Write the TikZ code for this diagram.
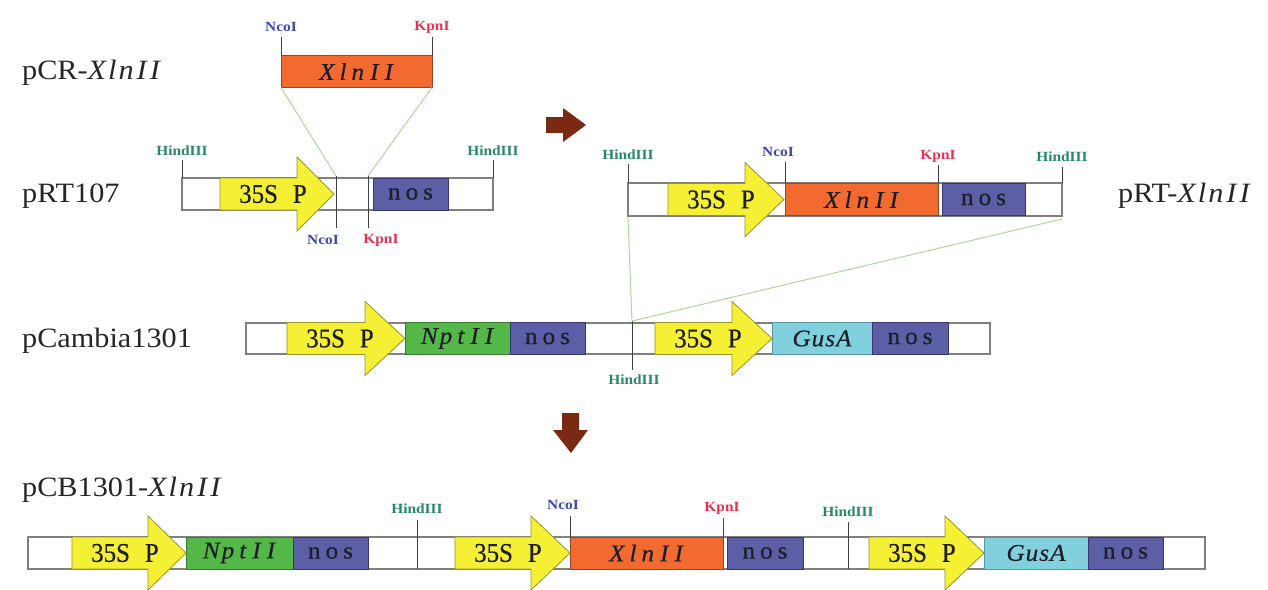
\documentclass[tikz,border=0pt]{standalone}
\usepackage{fontspec}
\setmainfont{Liberation Serif}
\newfontfamily\lblfont[FakeStretch=1.08]{Liberation Serif}
\newfontfamily\promfont[FakeStretch=0.92,FakeBold=0.4]{Liberation Serif}
\newfontfamily\segfont[FakeStretch=1.05,FakeBold=0.4]{Liberation Serif}
\newfontfamily\enzfont[FakeStretch=1.1]{Liberation Serif}
\definecolor{promy}{RGB}{246,240,52}
\definecolor{promd}{RGB}{150,150,40}
\definecolor{orng}{RGB}{242,106,48}
\definecolor{orngd}{RGB}{150,70,40}
\definecolor{nosb}{RGB}{92,94,166}
\definecolor{nosd}{RGB}{55,55,110}
\definecolor{nptg}{RGB}{84,184,72}
\definecolor{nptd}{RGB}{60,120,50}
\definecolor{gusc}{RGB}{128,208,222}
\definecolor{gusd}{RGB}{90,150,165}
\definecolor{barc}{RGB}{128,128,128}
\definecolor{linkg}{RGB}{176,214,156}
\definecolor{hindc}{RGB}{40,135,105}
\definecolor{ncoc}{RGB}{58,72,176}
\definecolor{kpnc}{RGB}{232,48,80}
\definecolor{brownc}{RGB}{122,42,18}
\definecolor{txtd}{RGB}{30,30,40}
\newcommand\promo[5]{%
  \draw[prom] (#2,#5-16) -- (#3,#5-16) -- (#3,#5-37) -- (#4,#5) -- (#3,#5+37) -- (#3,#5+16) -- (#2,#5+16) -- cycle;
  \node[promtxt] (#1) at ({#2+53},#5) {35S\hspace{15pt}P};}
\newcommand\segm[6]{%
  \draw[#5] (#2,#4-16) rectangle (#3,#4+16);
  \node[segtxt] (#1) at ({(#2+#3)/2},#4) {#6};}
\newcommand\site[8]{%
  \coordinate (#1a) at (#2,#3);
  \coordinate (#1b) at (#2,#4);
  \draw[tick] (#1a) -- (#1b);
  \node[#5] (#1l) at (#6,#7) {#8};}
\newcommand\nostxt{n\kern5pt o\kern5pt s}
\newcommand\xln{\textit{X\kern5pt l\kern5pt n\kern6pt I\kern6pt I}}
\newcommand\npt{\textit{N\kern2pt p\kern5pt t\kern6pt I\kern6pt I}}
\newcommand\gus{\textit{G\kern1pt u\kern1pt s\kern1pt A}}
\begin{document}
\begin{tikzpicture}[x=1pt,y=-1pt,
  bar/.style={draw=barc,fill=white,line width=1.3pt},
  prom/.style={fill=promy,draw=promd,line width=0.8pt},
  promtxt/.style={font=\promfont\fontsize{27}{29}\selectfont,text=txtd,inner sep=0pt},
  segtxt/.style={font=\segfont\fontsize{24}{26}\selectfont,text=txtd,inner sep=0pt},
  nosbox/.style={fill=nosb,draw=nosd,line width=0.8pt},
  xlnbox/.style={fill=orng,draw=orngd,line width=0.8pt},
  nptbox/.style={fill=nptg,draw=nptd,line width=0.8pt},
  gusbox/.style={fill=gusc,draw=gusd,line width=0.8pt},
  tick/.style={draw=black!75,line width=0.9pt},
  hind/.style={font=\enzfont\bfseries\fontsize{14}{15}\selectfont,text=hindc,inner sep=0pt},
  nco/.style={font=\enzfont\bfseries\fontsize{14}{15}\selectfont,text=ncoc,inner sep=0pt},
  kpn/.style={font=\enzfont\bfseries\fontsize{14}{15}\selectfont,text=kpnc,inner sep=0pt},
  title/.style={font=\lblfont\fontsize{28}{30}\selectfont,text=black!85,anchor=base west,inner sep=0pt},
  link/.style={draw=linkg,line width=1pt},
  bigarrow/.style={fill=brownc,draw=none}]
\useasboundingbox (0,0) rectangle (1268,589);
\fill[white] (0,0) rectangle (1268,589);

% ---------- titles ----------
\node[title] (tpcr) at (22,79) {pCR-\textit{X\kern2pt l\kern2pt n\kern3pt I\kern3pt I}};
\node[title] (tprt) at (22,202) {pRT107};
\node[title] (tprtx) at (1118,202) {pRT-\textit{X\kern2pt l\kern2pt n\kern3pt I\kern3pt I}};
\node[title] (tcam) at (22,347) {pCambia1301};
\node[title] (tpcb) at (22,496) {pCB1301-\textit{X\kern2pt l\kern2pt n\kern3pt I\kern3pt I}};

% ---------- pCR-XlnII ----------
\segm{crx}{281}{432}{71.5}{xlnbox}{\xln}
\site{crnco}{281}{37}{55.5}{nco}{281}{27}{NcoI}
\site{crkpn}{432}{37}{55.5}{kpn}{432}{27}{KpnI}
\coordinate (crbl) at (281,87.5);
\coordinate (crbr) at (432,87.5);

% ---------- pRT107 ----------
\draw[bar] (182,178) rectangle (493,210);
\segm{rnos}{373}{448}{194}{nosbox}{\nostxt}
\promo{rp}{220}{297}{334}{194}
\site{rh1}{182}{160}{178}{hind}{182}{151}{HindIII}
\site{rh2}{493}{160}{178}{hind}{493}{151}{HindIII}
\site{rnco}{336}{176}{228}{nco}{323}{240}{NcoI}
\site{rkpn}{368}{176}{228}{kpn}{381}{240}{KpnI}

% ---------- pRT-XlnII ----------
\draw[bar] (628,183) rectangle (1062,216);
\segm{tx}{785}{938}{199.5}{xlnbox}{\xln}
\segm{tnos}{942}{1025}{199.5}{nosbox}{\nostxt}
\promo{tp}{668}{745}{784}{199.5}
\site{th1}{628}{164}{183}{hind}{628}{155}{HindIII}
\site{tnco}{785}{162}{183}{nco}{778}{152}{NcoI}
\site{tkpn}{938}{165}{183}{kpn}{938}{156}{KpnI}
\site{th2}{1062}{167}{183}{hind}{1062}{157}{HindIII}
\coordinate (tbl) at (628,218);
\coordinate (tbr) at (1062,219);

% ---------- pCambia1301 ----------
\draw[bar] (246,323) rectangle (990,354);
\segm{cnpt}{405}{510}{338.5}{nptbox}{\npt}
\segm{cnos1}{510}{585}{338.5}{nosbox}{\nostxt}
\segm{cgus}{772}{872}{338.5}{gusbox}{\gus}
\segm{cnos2}{872}{948}{338.5}{nosbox}{\nostxt}
\promo{cp1}{287}{365}{405}{338.5}
\promo{cp2}{655}{732}{772}{338.5}
\site{ch}{632}{321}{370}{hind}{634}{380}{HindIII}

% ---------- pCB1301-XlnII ----------
\draw[bar] (28,537) rectangle (1205,569);
\segm{bnpt}{186}{293}{553}{nptbox}{\npt}
\segm{bnos1}{293}{368}{553}{nosbox}{\nostxt}
\segm{bx}{570}{723}{553}{xlnbox}{\xln}
\segm{bnos2}{727}{803}{553}{nosbox}{\nostxt}
\segm{bgus}{984}{1088}{553}{gusbox}{\gus}
\segm{bnos3}{1088}{1163}{553}{nosbox}{\nostxt}
\promo{bp1}{72}{148}{186}{553}
\promo{bp2}{455}{531}{570}{553}
\promo{bp3}{869}{945}{984}{553}
\site{bh1}{417}{520}{569}{hind}{417}{509}{HindIII}
\site{bnco}{570}{516}{537}{nco}{563}{505}{NcoI}
\site{bkpn}{723}{518}{537}{kpn}{722}{508}{KpnI}
\site{bh2}{848}{522}{569}{hind}{848}{512}{HindIII}

% ---------- links ----------
\draw[link] (crbl) -- (rncoa);
\draw[link] (crbr) -- (rkpna);
\draw[link] (tbl) -- (cha);
\draw[link] (tbr) -- (cha);

% ---------- big arrows ----------
\fill[bigarrow] (546,117) -- (563,117) -- (563,108) -- (586,125) -- (563,142) -- (563,133) -- (546,133) -- cycle;
\fill[bigarrow] (562,413) -- (579,413) -- (579,430) -- (588,430) -- (571,453) -- (553,430) -- (562,430) -- cycle;
\end{tikzpicture}
\end{document}
